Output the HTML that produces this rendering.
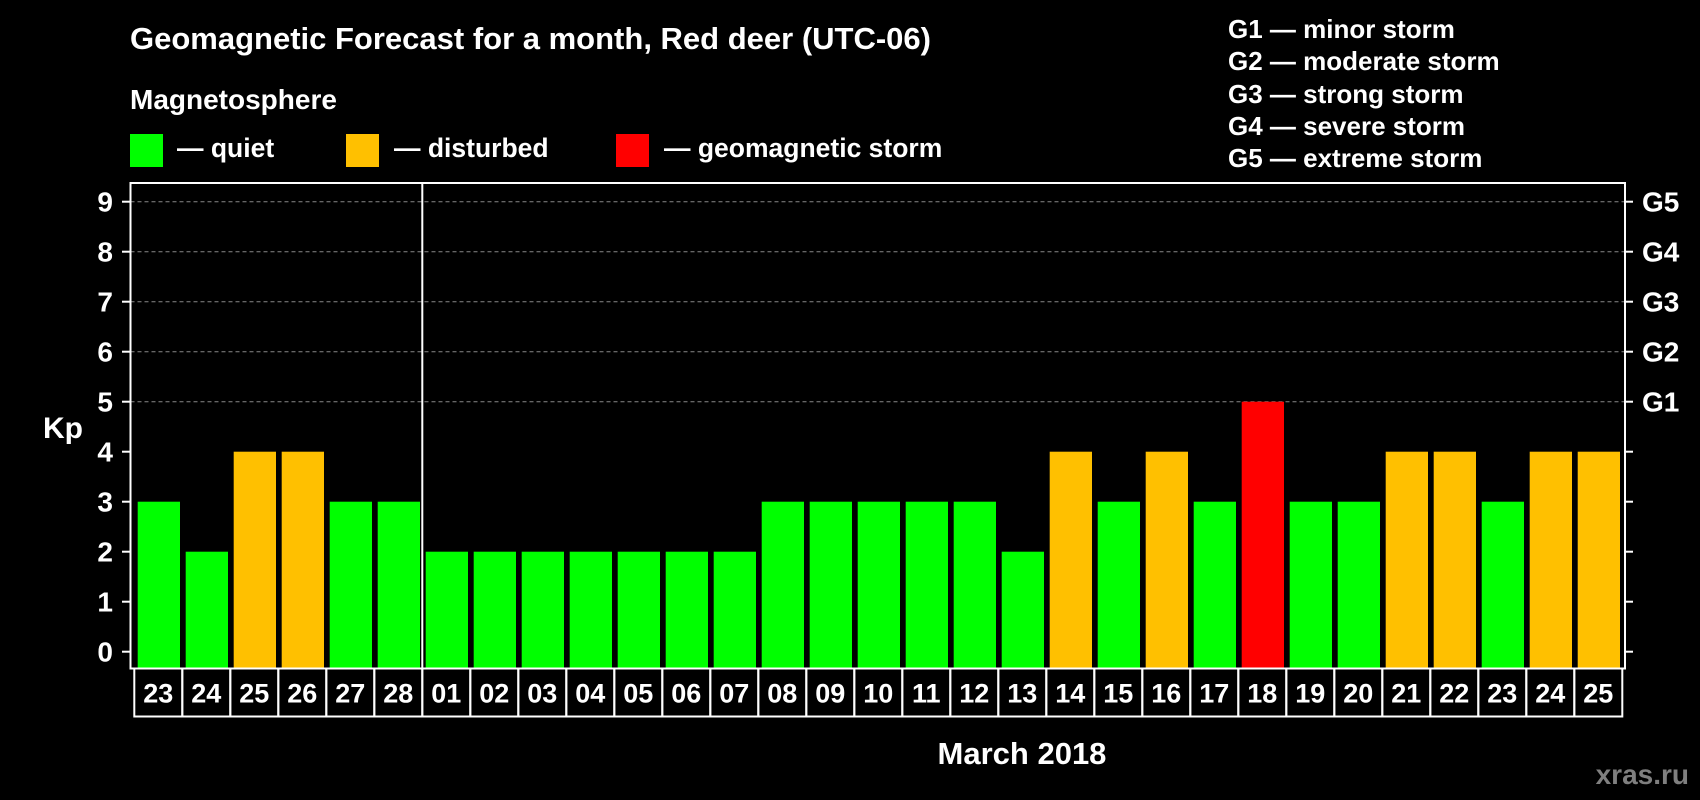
<!DOCTYPE html>
<html><head><meta charset="utf-8"><style>
html,body{margin:0;padding:0;background:#000;}
svg{display:block;}
text{font-family:"Liberation Sans",Arial,sans-serif;font-weight:bold;fill:#fff;}
</style></head><body>
<svg id="chart" width="1700" height="800" viewBox="0 0 1700 800">
<text x="130" y="49" font-size="31">Geomagnetic Forecast for a month, Red deer (UTC-06)</text>
<text x="130" y="109" font-size="28">Magnetosphere</text>
<rect x="130" y="134" width="33" height="33" fill="#00ff00"/>
<text x="177" y="157" font-size="26.5">— quiet</text>
<rect x="346" y="134" width="33" height="33" fill="#ffc000"/>
<text x="394" y="157" font-size="26.5">— disturbed</text>
<rect x="616" y="134" width="33" height="33" fill="#ff0000"/>
<text x="664" y="157" font-size="26.5">— geomagnetic storm</text>
<g font-size="26">
<text x="1228" y="38">G1 — minor storm</text>
<text x="1228" y="70">G2 — moderate storm</text>
<text x="1228" y="103">G3 — strong storm</text>
<text x="1228" y="135">G4 — severe storm</text>
<text x="1228" y="167">G5 — extreme storm</text>
</g>
<text x="43" y="438" font-size="30">Kp</text>
<text x="1022" y="764" font-size="31" text-anchor="middle">March 2018</text>
<text x="1689" y="784" font-size="28" text-anchor="end" style="fill:#7f7f7f">xras.ru</text>
<g id="plot"></g>
</svg>
<script>
const days = ["23","24","25","26","27","28","01","02","03","04","05","06","07","08","09","10","11","12","13","14","15","16","17","18","19","20","21","22","23","24","25"];
const kp = [3,2,4,4,3,3,2,2,2,2,2,2,2,3,3,3,3,3,2,4,3,4,3,5,3,3,4,4,3,4,4];
const yTicks = [0,1,2,3,4,5,6,7,8,9];
const gLabels = ["G1","G2","G3","G4","G5"];
const gLevels = [5,6,7,8,9];

const NS="http://www.w3.org/2000/svg";
const plotG=document.getElementById('plot');
const x0=134.3, slot=48, base=651.7, unit=50, xLeft=130.5, xRight=1625, yTop=183, yBottom=668.5;
const yScale=v=>base-v*unit;
const xScale=i=>x0+i*slot;
function mk(t,a){const e=document.createElementNS(NS,t);for(const k in a)e.setAttribute(k,a[k]);plotG.appendChild(e);return e;}
gLevels.forEach((v,i)=>{
 const l=mk('line',{x1:xLeft,x2:xRight,y1:yScale(v),y2:yScale(v),stroke:'#888','stroke-dasharray':'4,3','stroke-width':1});
 
 
 const t=mk('text',{x:1642,y:yScale(v)+10,'font-size':28});
 t.textContent=gLabels[i];
 
 
});
kp.forEach((v,i)=>{
 const c=v>=5?'#ff0000':(v>=4?'#ffc000':'#00ff00');
 const r=mk('rect',{x:xScale(i)+3.4,y:yScale(v),width:42.3,height:yBottom-yScale(v)-1,fill:c});
 
 
});
yTicks.forEach(v=>{
 const l=mk('line',{x1:122,x2:xLeft,y1:yScale(v),y2:yScale(v),stroke:'#fff','stroke-width':2});
 
 
 const r=mk('line',{x1:xRight,x2:1633,y1:yScale(v),y2:yScale(v),stroke:'#fff','stroke-width':2});
 
 
 const t=mk('text',{x:113,y:yScale(v)+10,'font-size':28,'text-anchor':'end'});
 t.textContent=v;
 
 
});
const f=mk('rect',{x:xLeft,y:yTop,width:xRight-xLeft,height:yBottom-yTop,fill:'none',stroke:'#fff','stroke-width':2});


const d=mk('line',{x1:xScale(6),x2:xScale(6),y1:yTop,y2:yBottom,stroke:'#fff','stroke-width':2});


days.forEach((s,i)=>{
 const r=mk('rect',{x:xScale(i),y:yBottom,width:slot,height:48,fill:'none',stroke:'#fff','stroke-width':2});
 
 
 const t=mk('text',{x:xScale(i)+slot/2,y:yBottom+34,'font-size':27,'text-anchor':'middle'});
 t.textContent=s;
 
 
});
</script>
</body></html>
